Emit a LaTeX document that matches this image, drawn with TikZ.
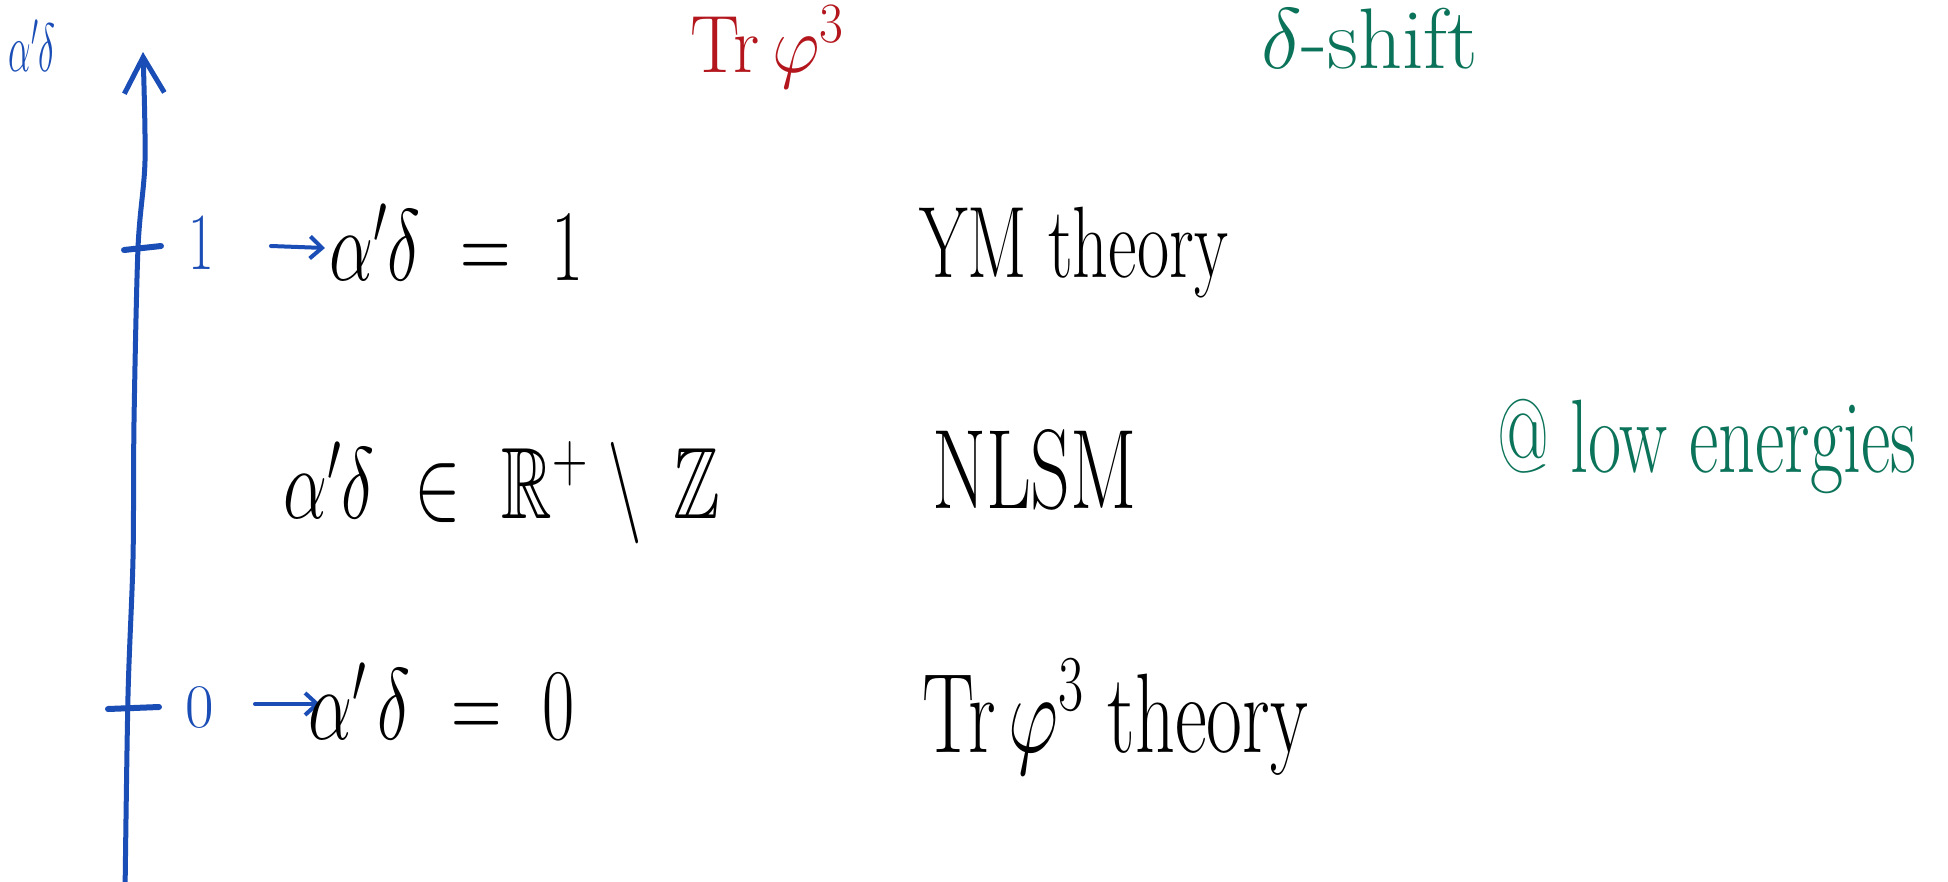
\RequirePackage{fix-cm}
\documentclass[tikz,border=0pt]{standalone}
\usepackage{amssymb}
\usepackage{graphicx}
\usetikzlibrary{arrows.meta}
\definecolor{penblue}{HTML}{1A4DB5}
\definecolor{penred}{HTML}{B3161C}
\definecolor{pengreen}{HTML}{0B7359}
\newcommand{\tallhand}[1]{\scalebox{1}[1.45]{#1}}
\begin{document}
\begin{tikzpicture}[x=1pt,y=-1pt,
  hand/.style={inner sep=0pt, outer sep=0pt},
  bigtxt/.style={hand, font=\fontsize{70}{84}\selectfont},
  axisline/.style={penblue, line width=5pt, line cap=round, line join=round},
  pointer/.style={penblue, line width=4pt, line cap=round, -{Straight Barb[length=12pt,width=22pt]}},
  tickmark/.style={penblue, line width=6pt, line cap=round}]
\useasboundingbox (0,0) rectangle (1948,881);
\fill[white] (0,0) rectangle (1948,881);

% axis
\coordinate (axb) at (125,895);
\coordinate (ax1) at (128,696);
\coordinate (ax2) at (133,559);
\coordinate (ax3) at (134,422);
\coordinate (ax4) at (138,248);
\coordinate (ax5) at (145,161);
\coordinate (axt) at (143,52);
\draw[axisline, -{Straight Barb[length=36pt,width=40pt]}] plot[smooth] coordinates {(axb) (ax1) (ax2) (ax3) (ax4) (ax5) (axt)};
\node[hand, penblue, font=\fontsize{36}{42}\selectfont] (axlab) at (32,46) {\scalebox{1}[1.9]{$\alpha'\delta$}};

% ticks
\coordinate (t1a) at (124,250); \coordinate (t1b) at (161,246);
\draw[tickmark] (t1a) -- (t1b);
\coordinate (t0a) at (108,709); \coordinate (t0b) at (159,707);
\draw[tickmark] (t0a) -- (t0b);
\node[hand, penblue, font=\fontsize{56}{64}\selectfont] (lab1) at (201,243) {\tallhand{1}};
\node[hand, penblue, font=\fontsize{62}{70}\selectfont] (lab0) at (200,707) {0};

% pointers
\coordinate (p1s) at (271,246); \coordinate (p1e) at (325,248);
\draw[pointer] (p1s) -- (p1e);
\coordinate (p0s) at (255,704); \coordinate (p0e) at (320,704);
\draw[pointer] (p0s) -- (p0e);

% rows
\node[bigtxt, anchor=base west] (eq1) at (329,280) {\tallhand{$\alpha'\delta\ = \ 1$}};
\node[bigtxt, anchor=base west] (ym) at (919,277) {\tallhand{YM theory}};
\node[bigtxt, anchor=base west] (eq2) at (283,518) {\tallhand{$\alpha'\delta\ \in\ \mathbb{R}^{+}\;\backslash\;\,\mathbb{Z}$}};
\node[bigtxt, font=\fontsize{78}{90}\selectfont, anchor=base west] (nlsm) at (932,508) {\tallhand{NLSM}};
\node[bigtxt, anchor=base west] (eq0) at (308,739) {\tallhand{$\alpha'\,\delta\ =\ 0$}};
\node[bigtxt, font=\fontsize{78}{90}\selectfont, anchor=base west] (tr) at (922,752) {\tallhand{Tr$\,\varphi^3$ theory}};

% top labels
\node[bigtxt, penred, font=\fontsize{74}{86}\selectfont, anchor=base west] (trtop) at (690,72) {\scalebox{1}[1.1]{Tr$\,\varphi^3$}};
\node[hand, pengreen, font=\fontsize{86}{96}\selectfont, anchor=base west] (shift) at (1261,68) {$\delta$-shift};
\node[hand, pengreen, font=\fontsize{72}{84}\selectfont, anchor=base west] (low) at (1497,472) {\tallhand{@ low energies}};
\end{tikzpicture}
\end{document}
